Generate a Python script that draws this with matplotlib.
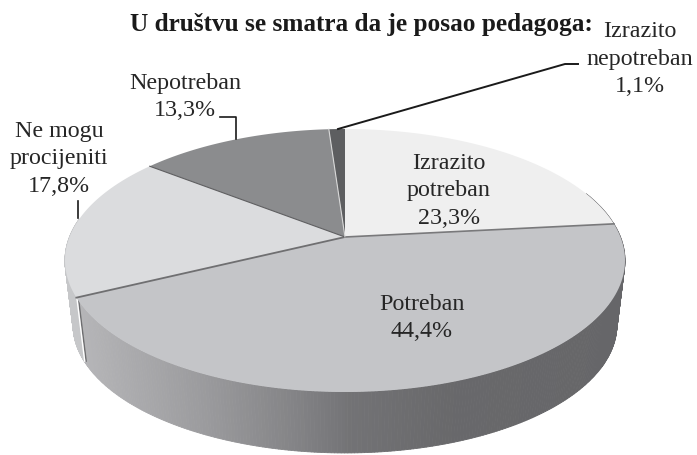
import numpy as np
import matplotlib
matplotlib.use("Agg")
import matplotlib.pyplot as plt
from matplotlib.collections import PolyCollection

# shares, clockwise from the top
shares = [23.3, 44.4, 17.8, 13.3, 1.1]
face_colors = ['#efefef', '#c4c5c8', '#dbdcde', '#8b8c8e', '#5d5e60']
label_text = ['Izrazito\npotreban\n23,3%', 'Potreban\n44,4%', 'Ne mogu\nprocijeniti\n17,8%',
              'Nepotreban\n13,3%', 'Izrazito\nnepotreban\n1,1%']
label_x = [449, 422, 59, 185, 640]
label_y = [191, 318, 159, 97, 59]
title = 'U društvu se smatra da je posao pedagoga:'

# rim shading against x position
rim_x = [80, 200, 300, 350, 450, 625]
rim_gray = [0.71, 0.61, 0.51, 0.45, 0.41, 0.40]

# perspective of the disc, in pixels of the picture
cx, cy, a, b, k = 345, 238, 275.5, 127.3, 0.1787


def top_face(t):
    u = np.sin(t)
    v = np.cos(t)
    s = 1 / (1 + k * v)
    return cx + a * u * s, cy - b * v * s


def bottom_face(t):
    x, y = top_face(t)
    return cx + (x - cx) * 0.971, 326 + (y - 261.5) * 0.973


def rim_quads(t0, t1):
    t = np.linspace(t0, t1, 300)
    x0, y0 = top_face(t)
    x1, y1 = bottom_face(t)
    quads = []
    for i in range(len(t) - 1):
        quads.append([(x0[i], y0[i]), (x0[i + 1], y0[i + 1]), (x1[i + 1], y1[i + 1]), (x1[i], y1[i])])
    return quads, (x0[:-1] + x0[1:]) / 2


edges = np.cumsum([0] + shares) / sum(shares) * 2 * np.pi

fig = plt.figure(figsize=(6.97, 4.56), dpi=100)
ax = fig.add_axes([0, 0, 1, 1])
ax.set_xlim(0, 697)
ax.set_ylim(456, 0)
ax.axis('off')

# side of the pie
quads, mid = rim_quads(edges[0] + 1.2, edges[2])
g = np.interp(mid, rim_x, rim_gray)
cols = [(v, v, v + 0.01) for v in g]
ax.add_collection(PolyCollection(quads, facecolors=cols, edgecolors=cols, linewidths=0.6, zorder=1))
quads, mid = rim_quads(edges[2], edges[2] + 0.6)
ax.add_collection(PolyCollection(quads, facecolors='#c6c7c9', edgecolors='#c6c7c9', linewidths=0.6, zorder=1))

# seam on the side, at the end of the big slice
sx, sy = top_face(edges[2])
ex, ey = bottom_face(edges[2])
ax.plot([sx + 2, ex + 2], [sy, ey], color='#6e6e70', lw=1.0, zorder=2)
ax.plot([sx + 0.5, ex + 0.5], [sy, ey], color='white', lw=1.0, zorder=2)

# top of the pie
for i in range(len(shares)):
    t = np.linspace(edges[i], edges[i + 1], 120)
    x, y = top_face(t)
    ax.fill(np.r_[cx, x], np.r_[cy, y], color=face_colors[i], lw=0, zorder=3)

# slice borders
border_colors = ['#79797b', '#6f6f71', '#5f5f61', '#d8d8d8', '#e8e8e8']
border_width = [1.2, 1.3, 0.8, 0.8, 0.6]
for i in [1, 2, 3, 4]:
    x, y = top_face(edges[i])
    ax.plot([cx, x], [cy, y], color=border_colors[i - 1], lw=border_width[i - 1], zorder=4)

# leader lines
ax.plot([338, 565, 578], [130, 65, 65], color='#1a1a1a', lw=1.4, zorder=5)
ax.plot([220, 236, 236], [118, 118, 140], color='#1a1a1a', lw=1.2, zorder=5)
ax.plot([78, 78], [202, 219], color='#1a1a1a', lw=1.2, zorder=5)

for txt, x, y in zip(label_text, label_x, label_y):
    ax.text(x, y, txt, ha='center', va='center', family='Liberation Serif', fontsize=17.3,
            color='#262626', linespacing=1.4, zorder=6)
ax.text(361, 25, title, ha='center', va='center', family='Liberation Serif', fontsize=18.2,
        fontweight='bold', color='#1a1a1a', zorder=6)

fig.savefig('out.png', dpi=100)
